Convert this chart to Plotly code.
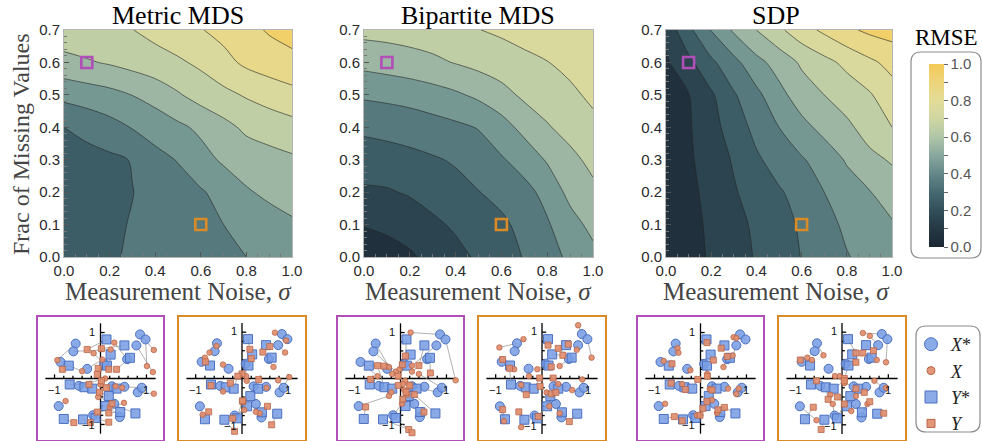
import plotly.graph_objects as go

W, H = 982, 441

# ---------------- data ----------------
NOISE = [0.0, 0.1, 0.2, 0.3, 0.4, 0.5, 0.6, 0.7, 0.8, 0.9, 1.0]
MISSING = [0.0, 0.1, 0.2, 0.3, 0.4, 0.5, 0.6, 0.7]

# rows = fraction of missing values, columns = measurement noise
RMSE_METRIC = [
    [0.26, 0.27, 0.29, 0.31, 0.33, 0.35, 0.365, 0.38, 0.40, 0.43, 0.46],
    [0.26, 0.27, 0.285, 0.305, 0.325, 0.345, 0.37, 0.40, 0.43, 0.46, 0.485],
    [0.25, 0.26, 0.28, 0.298, 0.33, 0.36, 0.39, 0.435, 0.49, 0.52, 0.545],
    [0.26, 0.265, 0.28, 0.305, 0.37, 0.405, 0.465, 0.515, 0.545, 0.565, 0.585],
    [0.30, 0.33, 0.365, 0.405, 0.44, 0.48, 0.52, 0.57, 0.62, 0.645, 0.665],
    [0.43, 0.45, 0.47, 0.502, 0.54, 0.59, 0.64, 0.675, 0.71, 0.74, 0.77],
    [0.57, 0.59, 0.61, 0.635, 0.66, 0.685, 0.72, 0.77, 0.82, 0.85, 0.87],
    [0.66, 0.67, 0.685, 0.698, 0.73, 0.765, 0.795, 0.83, 0.87, 0.91, 0.94],
]
RMSE_BIPARTITE = [
    [0.04, 0.06, 0.085, 0.13, 0.17, 0.215, 0.26, 0.305, 0.36, 0.42, 0.47],
    [0.105, 0.12, 0.145, 0.18, 0.215, 0.25, 0.28, 0.33, 0.39, 0.46, 0.53],
    [0.185, 0.19, 0.21, 0.24, 0.27, 0.297, 0.33, 0.37, 0.43, 0.53, 0.575],
    [0.25, 0.26, 0.275, 0.29, 0.31, 0.35, 0.39, 0.44, 0.51, 0.57, 0.63],
    [0.32, 0.33, 0.34, 0.36, 0.38, 0.405, 0.46, 0.53, 0.59, 0.64, 0.68],
    [0.415, 0.425, 0.44, 0.46, 0.485, 0.52, 0.565, 0.62, 0.655, 0.685, 0.715],
    [0.53, 0.545, 0.56, 0.58, 0.605, 0.63, 0.655, 0.68, 0.698, 0.72, 0.745],
    [0.63, 0.635, 0.645, 0.655, 0.675, 0.698, 0.715, 0.73, 0.74, 0.75, 0.76],
]
RMSE_SDP = [
    [0.02, 0.06, 0.113, 0.16, 0.208, 0.255, 0.303, 0.35, 0.394, 0.43, 0.46],
    [0.03, 0.065, 0.12, 0.168, 0.218, 0.265, 0.313, 0.365, 0.42, 0.46, 0.49],
    [0.04, 0.075, 0.13, 0.19, 0.245, 0.29, 0.335, 0.40, 0.455, 0.495, 0.55],
    [0.05, 0.085, 0.145, 0.21, 0.285, 0.34, 0.39, 0.445, 0.51, 0.575, 0.61],
    [0.065, 0.09, 0.165, 0.245, 0.33, 0.40, 0.47, 0.53, 0.58, 0.64, 0.70],
    [0.075, 0.097, 0.185, 0.29, 0.375, 0.47, 0.55, 0.60, 0.645, 0.69, 0.76],
    [0.085, 0.175, 0.28, 0.37, 0.47, 0.54, 0.615, 0.67, 0.725, 0.78, 0.83],
    [0.135, 0.275, 0.405, 0.515, 0.60, 0.68, 0.76, 0.82, 0.88, 0.92, 0.94],
]
PANEL_TITLES = ["Metric MDS", "Bipartite MDS", "SDP"]

# highlighted cases (noise, missing) shown in the small panels
CASE_NOISE = [0.1, 0.6]
CASE_MISSING = [0.6, 0.1]
CASE_COLORS = ["#b04fb8", "#d98b27"]

# ground-truth embeddings (shared by all small panels)
X_TRUE = [(-0.54, 0.76), (-0.59, 0.59), (0.86, 0.96), (0.98, 0.85), (0.78, 0.72), (-0.87, 0.36),
          (-0.29, 0.21), (0.52, -0.18), (0.81, -0.30), (0.90, -0.20), (-0.91, -0.60), (-0.16, -0.80),
          (0.42, -0.84), (0.25, -0.17), (0.58, 0.42), (0.08, 0.32), (0.30, -0.55), (-0.47, -0.16)]
Y_TRUE = [(0.13, 0.85), (0.52, 0.72), (0.64, 0.45), (0.22, 0.52), (0.14, 0.28), (-0.69, 0.28),
          (-0.67, -0.13), (-0.35, -0.19), (-0.18, -0.22), (0.35, -0.22), (0.18, -0.38), (0.11, -0.60),
          (0.43, -0.73), (0.76, -0.76), (-0.80, -0.88), (-0.38, -0.89), (-0.11, -0.86)]

# recovered embeddings, per method and case
X_HAT_METRIC_A = [(-0.94, 0.40), (0.22, 0.63), (1.16, 0.62), (1.01, 0.27), (1.14, 0.14), (-0.40, 0.16),
                  (0.04, 0.41), (0.47, -0.20), (1.16, -0.33), (0.33, -0.17), (-0.76, -0.49), (0.51, -0.53),
                  (0.20, -0.62), (0.00, -0.13), (0.30, 0.78), (-0.15, 0.55), (-0.05, -0.40), (0.10, 0.00)]
Y_HAT_METRIC_A = [(-0.29, 0.63), (0.02, 0.65), (0.35, 0.20), (0.18, 0.20), (-0.05, 0.22), (-0.83, 0.20),
                  (-0.25, -0.13), (-0.07, 0.09), (0.02, -0.05), (0.13, -0.20), (-0.02, -0.30), (-0.07, -0.73),
                  (0.18, -0.75), (0.25, -0.55), (-0.58, -0.96), (-0.22, -0.96), (0.18, -0.95)]
X_HAT_METRIC_B = [(-0.70, 0.56), (-0.55, 0.70), (0.71, 0.99), (0.95, 0.82), (0.93, 0.56), (-0.80, 0.45),
                  (-0.41, 0.30), (0.53, -0.20), (1.02, 0.03), (0.78, -0.04), (-0.85, -0.78), (0.05, -0.68),
                  (0.38, -0.75), (0.10, -0.05), (0.68, 0.25), (0.09, 0.05), (0.30, -0.72), (-0.41, -0.28)]
Y_HAT_METRIC_B = [(0.17, 0.63), (0.60, 0.69), (0.45, 0.57), (0.20, 0.43), (0.00, 0.10), (-0.79, 0.36),
                  (-0.67, -0.15), (-0.25, -0.10), (-0.09, 0.05), (0.36, -0.02), (0.02, -0.50), (-0.20, -0.86),
                  (0.55, -0.60), (0.64, -1.00), (-0.72, -0.72), (-0.16, -1.14), (0.01, -0.48)]
X_HAT_BIPARTITE_A = [(-0.25, 0.25), (-0.10, 0.15), (0.22, 1.00), (1.20, -0.04), (0.25, 0.28), (-0.50, 0.05),
                     (-0.18, 0.10), (0.10, -0.05), (0.20, -0.15), (0.40, 0.10), (-0.25, -0.38), (0.03, -0.55),
                     (0.15, -0.35), (0.05, -0.12), (0.25, 0.15), (-0.02, 0.20), (0.08, -0.25), (-0.20, -0.30)]
Y_HAT_BIPARTITE_A = [(0.11, 0.49), (0.40, 0.28), (0.65, 0.12), (0.04, 0.30), (-0.05, 0.05), (-0.36, 0.27),
                     (-0.65, -0.02), (-0.50, 0.28), (-0.05, -0.15), (0.20, -0.15), (0.12, -0.30), (0.05, -0.45),
                     (0.51, -0.73), (0.30, -0.35), (-0.76, -0.62), (0.18, -1.11), (0.25, -1.18)]
X_HAT_BIPARTITE_B = [(-0.92, 0.67), (-0.40, 0.85), (0.78, 1.15), (1.07, 0.45), (0.75, 0.62), (-0.60, 0.20),
                     (-0.28, 0.05), (0.35, -0.12), (0.65, -0.25), (0.87, -0.02), (-0.82, -0.92), (-0.45, -1.05),
                     (0.38, -0.75), (0.10, -0.30), (0.38, 0.27), (-0.10, 0.20), (0.16, -0.60), (-0.45, -0.14)]
Y_HAT_BIPARTITE_B = [(0.13, 0.72), (0.57, 0.74), (0.35, 0.65), (0.45, 0.50), (0.20, 0.25), (-0.85, 0.41),
                     (-0.70, 0.22), (-0.34, -0.35), (-0.05, 0.01), (0.24, 0.01), (-0.04, -0.17), (-0.08, -0.82),
                     (0.20, -0.33), (0.59, -0.93), (-0.85, -0.67), (-0.50, -0.72), (0.30, -0.30)]
X_HAT_SDP_A = [(-0.50, 0.66), (-0.48, 0.56), (0.72, 0.90), (0.78, 0.88), (0.70, 0.50), (-0.80, 0.38),
               (-0.22, 0.18), (0.60, -0.22), (0.78, -0.34), (0.83, -0.22), (-0.77, -0.55), (-0.08, -0.80),
               (0.36, -0.75), (0.20, -0.23), (0.50, 0.25), (0.15, 0.10), (0.25, -0.47), (-0.40, -0.12)]
Y_HAT_SDP_A = [(0.14, 0.78), (0.45, 0.66), (0.58, 0.48), (0.28, 0.40), (0.15, 0.05), (-0.62, 0.32),
               (-0.64, -0.10), (-0.33, -0.24), (-0.06, -0.02), (0.25, -0.25), (0.14, -0.50), (0.05, -0.65),
               (0.38, -0.68), (0.52, -0.63), (-0.57, -0.83), (-0.40, -0.92), (-0.01, -0.80)]
X_HAT_SDP_B = [(-0.40, 0.50), (-0.75, 0.45), (0.45, 0.98), (0.95, 0.35), (0.60, 0.92), (-0.65, 0.40),
               (-0.15, 0.05), (0.30, -0.38), (0.95, -0.20), (0.70, -0.05), (-0.55, -0.90), (-0.20, -0.55),
               (0.55, -0.55), (0.05, -0.10), (0.75, 0.40), (-0.05, 0.05), (0.20, -0.70), (-0.25, -0.35)]
Y_HAT_SDP_B = [(0.30, 0.55), (0.68, 0.60), (0.45, 0.55), (0.30, 0.35), (0.05, 0.00), (-0.90, 0.40),
               (-0.55, -0.05), (-0.30, -0.45), (0.05, -0.05), (0.48, -0.30), (0.30, -0.22), (-0.10, -0.40),
               (0.60, -0.50), (0.90, -0.75), (-0.62, -0.62), (-0.45, -1.10), (0.05, -0.55)]

SMALL_PANELS = [
    (X_HAT_METRIC_A, Y_HAT_METRIC_A, 0), (X_HAT_METRIC_B, Y_HAT_METRIC_B, 1),
    (X_HAT_BIPARTITE_A, Y_HAT_BIPARTITE_A, 0), (X_HAT_BIPARTITE_B, Y_HAT_BIPARTITE_B, 1),
    (X_HAT_SDP_A, Y_HAT_SDP_A, 0), (X_HAT_SDP_B, Y_HAT_SDP_B, 1),
]
LEGEND_NAMES = ["<i>X</i>*", "<i>X</i>", "<i>Y</i>*", "<i>Y</i>"]
CB_TICKS = [0.0, 0.1, 0.2, 0.3, 0.4, 0.5, 0.6, 0.7, 0.8, 0.9, 1.0]
AX_TICKS = [-1.0, -0.8, -0.6, -0.4, -0.2, 0.2, 0.4, 0.6, 0.8, 1.0]
AX_EXT = 1.2

# ---------------- style ----------------
BASE_SCALE = [
    (0.0, "#1b2834"), (0.1, "#253844"), (0.2, "#324f59"), (0.3, "#466a72"),
    (0.4, "#648888"), (0.5, "#88a79e"), (0.6, "#afc5a7"), (0.7, "#cfd6a3"),
    (0.8, "#e2dc97"), (0.9, "#edd47a"), (1.0, "#f4ca58"),
]
CB_SCALE = [[v, c] for v, c in BASE_SCALE]
# plotly colours filled contour bands at level+size/2 on a stretched domain; compensate
CONTOUR_SCALE = ([[0.0, BASE_SCALE[0][1]]] + [[(v + 0.05) / 1.1, c] for v, c in BASE_SCALE]
                 + [[1.0, BASE_SCALE[-1][1]]])

SERIF = "Liberation Serif, Times New Roman, serif"
SANS = "Liberation Sans, Arial, sans-serif"

BIG_PX = [(64, 292), (364, 593), (666, 892)]
BIG_TOP, BIG_BOT = 30, 257
SMALL_PX = [(38, 163), (179, 305), (338, 463), (479, 605), (638, 763), (779, 905)]
SMALL_TOP, SMALL_BOT = 317, 440

BLUE_FILL, BLUE_LINE = "rgba(118,156,228,0.85)", "#4d70bf"
ORANGE_FILL, ORANGE_LINE = "rgba(226,142,108,0.92)", "#b8664a"
# (symbol, fill, outline, size in panel, size in legend)
POINT_STYLES = [
    ("circle", BLUE_FILL, BLUE_LINE, 9, 13),
    ("circle", ORANGE_FILL, ORANGE_LINE, 5.5, 8),
    ("square", BLUE_FILL, BLUE_LINE, 9, 12),
    ("square", ORANGE_FILL, ORANGE_LINE, 6, 8),
]

def fx(p):
    return p / W

def fy(p):
    return 1 - p / H

fig = go.Figure()
layout = dict(width=W, height=H, margin=dict(l=0, r=0, t=0, b=0, autoexpand=False),
              paper_bgcolor="white", plot_bgcolor="white", template="none",
              showlegend=True)

# ---- contour panels ----
for i, (Z, (x0, x1)) in enumerate(zip([RMSE_METRIC, RMSE_BIPARTITE, RMSE_SDP], BIG_PX)):
    n = i + 1
    xs = "x" if n == 1 else f"x{n}"
    ys = "y" if n == 1 else f"y{n}"
    fig.add_trace(go.Contour(
        x=NOISE, y=MISSING, z=Z, xaxis=xs, yaxis=ys,
        colorscale=CONTOUR_SCALE, showscale=False, autocontour=False,
        contours=dict(start=0, end=1, size=0.1, coloring="fill", showlines=True),
        line=dict(color="rgba(35,35,35,0.75)", width=0.8, smoothing=0.9),
        hoverinfo="skip", showlegend=False))
    fig.add_trace(go.Scatter(
        x=CASE_NOISE, y=CASE_MISSING, xaxis=xs, yaxis=ys, mode="markers",
        marker=dict(symbol="square-open", size=11, color=CASE_COLORS, line=dict(width=2.6)),
        hoverinfo="skip", showlegend=False))
    tickfont = dict(family=SANS, size=15, color="#2a2a2a")
    layout["xaxis" if n == 1 else f"xaxis{n}"] = dict(
        domain=[fx(x0), fx(x1)], range=[0, 1], anchor=ys, tickmode="linear", tick0=0, dtick=0.2,
        tickformat=".1f", ticks="inside", ticklen=5, tickcolor="#555", tickwidth=1,
        minor=dict(ticks="inside", tick0=0, dtick=0.05, ticklen=3, tickcolor="#777", showgrid=False),
        showline=True, linecolor="#b5b5b5", linewidth=1, mirror=True, showgrid=False,
        zeroline=False, tickfont=tickfont)
    layout["yaxis" if n == 1 else f"yaxis{n}"] = dict(
        domain=[fy(BIG_BOT), fy(BIG_TOP)], range=[0, 0.7], anchor=xs, tickmode="linear", tick0=0,
        dtick=0.1, tickformat=".1f", ticks="inside", ticklen=5, tickcolor="#555", tickwidth=1,
        minor=dict(ticks="inside", tick0=0, dtick=0.02, ticklen=3, tickcolor="#777", showgrid=False),
        showline=True, linecolor="#b5b5b5", linewidth=1, mirror=True, showgrid=False,
        zeroline=False, tickfont=tickfont)

# colourbar (smooth) attached to an invisible point
fig.add_trace(go.Scatter(
    x=[0.5], y=[0.35], xaxis="x3", yaxis="y3", mode="markers", hoverinfo="skip", showlegend=False,
    marker=dict(size=1, opacity=0, color=[0.5], colorscale=CB_SCALE, cmin=0, cmax=1, showscale=True,
                colorbar=dict(x=fx(929), xanchor="left", y=fy(247), yanchor="bottom",
                              len=(247 - 64) / H, lenmode="fraction", thickness=15,
                              thicknessmode="pixels", xpad=0, ypad=0, outlinewidth=0,
                              tickmode="array", tickvals=CB_TICKS,
                              ticktext=[f"{v:.1f}" if round(v * 10) % 2 == 0 else "" for v in CB_TICKS],
                              ticks="outside", ticklen=4, tickcolor="#666",
                              tickfont=dict(family=SANS, size=15, color="#555")))))

# ---- small embedding panels ----
annotations = []
for k, ((xhat, yhat, case), (x0, x1)) in enumerate(zip(SMALL_PANELS, SMALL_PX)):
    n = k + 4
    xs, ys = f"x{n}", f"y{n}"
    col = CASE_COLORS[case]
    R = 1.36
    Ry = R * (SMALL_BOT - SMALL_TOP) / (x1 - x0)
    layout[f"xaxis{n}"] = dict(domain=[fx(x0), fx(x1)], range=[-R, R], anchor=ys, showgrid=False,
                               zeroline=False, showticklabels=False, ticks="", showline=True,
                               linecolor=col, linewidth=2.2, mirror=True)
    layout[f"yaxis{n}"] = dict(domain=[fy(SMALL_BOT), fy(SMALL_TOP)], range=[-Ry, Ry], anchor=xs,
                               showgrid=False, zeroline=False, showticklabels=False, ticks="",
                               showline=True, linecolor=col, linewidth=2.2, mirror=True)
    # cross axes with ticks
    axx, axy = [-AX_EXT, AX_EXT, None, 0, 0, None], [0, 0, None, -AX_EXT, AX_EXT, None]
    for t in AX_TICKS:
        L = 0.09 if abs(t) == 1.0 else 0.06
        axx += [t, t, None, 0, L, None]
        axy += [0, L, None, t, t, None]
    fig.add_trace(go.Scatter(x=axx, y=axy, xaxis=xs, yaxis=ys, mode="lines",
                             line=dict(color="black", width=1.3), hoverinfo="skip", showlegend=False))
    # connectors
    lx, ly = [], []
    for truth, est in ((X_TRUE, xhat), (Y_TRUE, yhat)):
        for (a, b), (c, d) in zip(truth, est):
            lx += [a, c, None]
            ly += [b, d, None]
    fig.add_trace(go.Scatter(x=lx, y=ly, xaxis=xs, yaxis=ys, mode="lines",
                             line=dict(color="rgba(140,140,140,0.85)", width=0.8),
                             hoverinfo="skip", showlegend=False))
    # draw order: X*, Y*, X, Y
    for pts, si in ((X_TRUE, 0), (Y_TRUE, 2), (xhat, 1), (yhat, 3)):
        sym, fill, edge, size, _ = POINT_STYLES[si]
        fig.add_trace(go.Scatter(x=[p[0] for p in pts], y=[p[1] for p in pts], xaxis=xs, yaxis=ys,
                                 mode="markers", showlegend=False, hoverinfo="skip",
                                 marker=dict(symbol=sym, size=size, color=fill,
                                             line=dict(color=edge, width=1 if size > 7 else 0.8))))
    lf = dict(family=SANS, size=11, color="#111")
    annotations += [
        dict(x=-1, y=-0.07, xref=xs, yref=ys, text="\u22121", showarrow=False, yanchor="top", font=lf),
        dict(x=1, y=-0.07, xref=xs, yref=ys, text="1", showarrow=False, yanchor="top", font=lf),
        dict(x=-0.07, y=1.02, xref=xs, yref=ys, text="1", showarrow=False, xanchor="right", font=lf),
        dict(x=-0.07, y=-1.02, xref=xs, yref=ys, text="\u22121", showarrow=False, xanchor="right", font=lf),
    ]

# legend entries (legend-sized markers)
for rank, (name, (sym, fill, edge, _, lsize)) in enumerate(zip(LEGEND_NAMES, POINT_STYLES)):
    fig.add_trace(go.Scatter(x=[None], y=[None], xaxis="x4", yaxis="y4", mode="markers", name=name,
                             legendrank=rank + 1, showlegend=True, hoverinfo="skip",
                             marker=dict(symbol=sym, size=lsize, color=fill, line=dict(color=edge, width=1))))

# ---- text ----
title_x = [178, 478, 776]
for t, x in zip(PANEL_TITLES, title_x):
    annotations.append(dict(x=fx(x), y=fy(15), xref="paper", yref="paper", text=t, showarrow=False,
                            xanchor="center", yanchor="middle",
                            font=dict(family=SERIF, size=26, color="black")))
    annotations.append(dict(x=fx(x), y=fy(291), xref="paper", yref="paper",
                            text="Measurement Noise, <i>\u03c3</i>", showarrow=False,
                            xanchor="center", yanchor="middle",
                            font=dict(family=SERIF, size=25, color="#444")))
annotations.append(dict(x=fx(21), y=fy(144), xref="paper", yref="paper", text="Frac of Missing Values",
                        textangle=-90, showarrow=False, xanchor="center", yanchor="middle",
                        font=dict(family=SERIF, size=24, color="#444")))
annotations.append(dict(x=fx(946), y=fy(37), xref="paper", yref="paper", text="RMSE", showarrow=False,
                        xanchor="center", yanchor="middle", font=dict(family=SERIF, size=23, color="black")))

def rounded_rect(x0, y0, x1, y1, r):
    p = (f"M {fx(x0 + r)},{fy(y0)} L {fx(x1 - r)},{fy(y0)} Q {fx(x1)},{fy(y0)} {fx(x1)},{fy(y0 + r)} "
         f"L {fx(x1)},{fy(y1 - r)} Q {fx(x1)},{fy(y1)} {fx(x1 - r)},{fy(y1)} "
         f"L {fx(x0 + r)},{fy(y1)} Q {fx(x0)},{fy(y1)} {fx(x0)},{fy(y1 - r)} "
         f"L {fx(x0)},{fy(y0 + r)} Q {fx(x0)},{fy(y0)} {fx(x0 + r)},{fy(y0)} Z")
    return dict(type="path", xref="paper", yref="paper", path=p, line=dict(color="#8c8c8c", width=1.2))

layout["shapes"] = [rounded_rect(911, 52, 981, 258, 10), rounded_rect(916, 326, 980, 432, 10)]
layout["annotations"] = annotations
layout["legend"] = dict(x=fx(911), y=fy(326), xanchor="left", yanchor="top", bgcolor="rgba(0,0,0,0)",
                        borderwidth=0, font=dict(family=SERIF, size=18, color="#222"),
                        itemsizing="trace", tracegroupgap=0, itemwidth=30, traceorder="normal")
fig.update_layout(**layout)
fig.write_html("out.html", config={"displayModeBar": False},
               post_script="document.body.style.margin='0';")
